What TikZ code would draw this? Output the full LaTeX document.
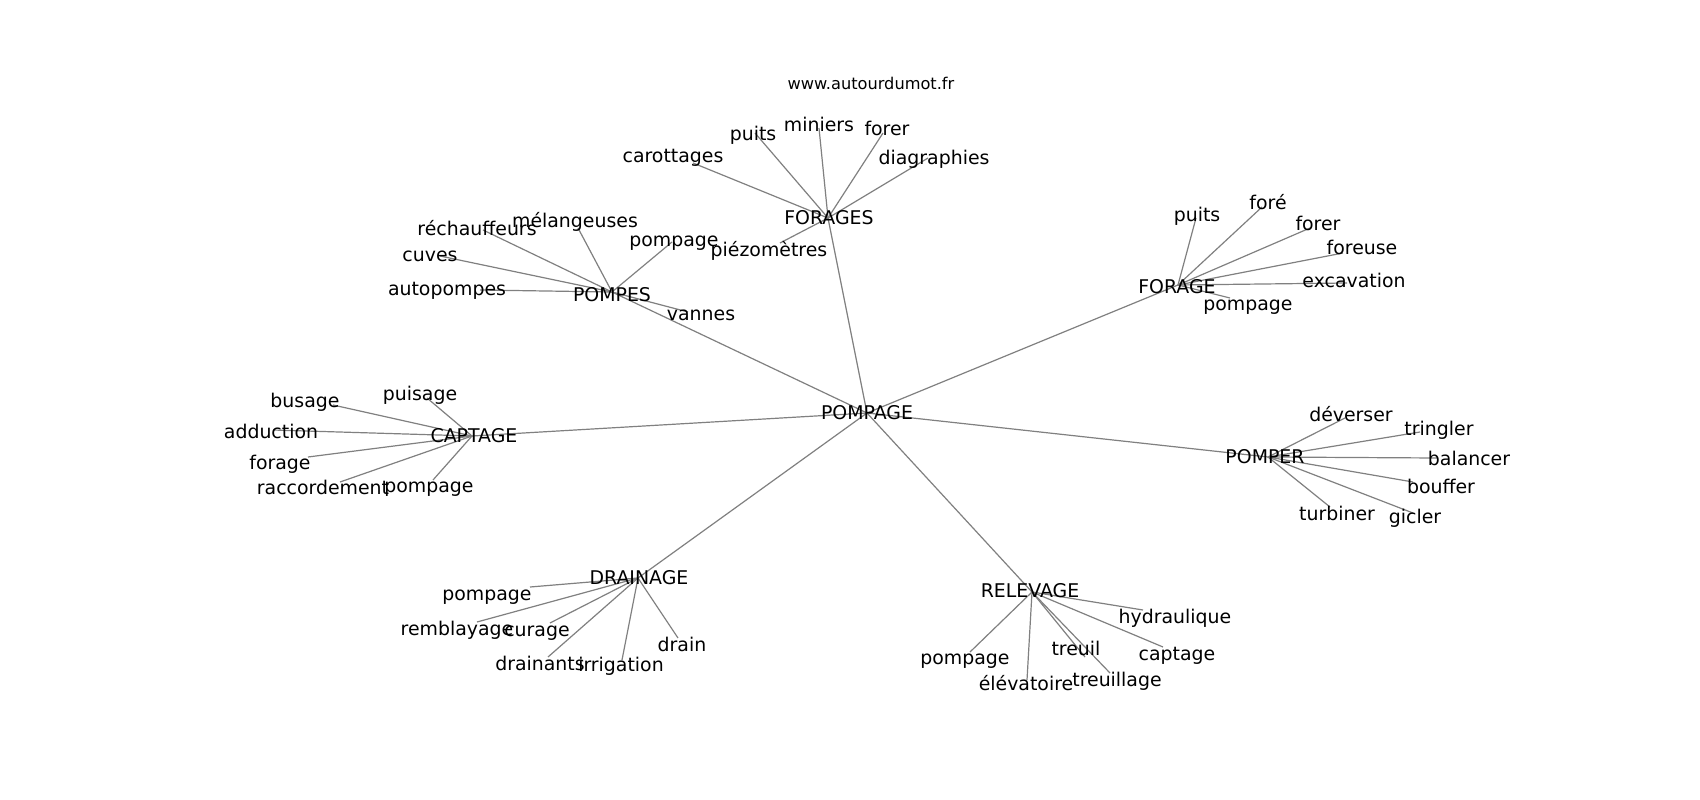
\documentclass[tikz,border=0pt]{standalone}
\usepackage{fontspec}
\setmainfont{DejaVu Sans}
\begin{document}
\begin{tikzpicture}[x=1pt,y=-1pt,
  lbl/.style={font=\fontsize{18.9}{22}\selectfont, inner sep=0pt, text height=13.8pt, text depth=0pt, anchor=center, yshift=-1.5pt},
  ttl/.style={font=\fontsize{16.2}{19}\selectfont, inner sep=0pt, text height=11.8pt, text depth=0pt, anchor=center, yshift=-1.5pt},
  edge/.style={draw=gray, line width=1.2pt}]
\useasboundingbox[fill=white] (0,0) rectangle (1700,800);
\node[ttl] (title) at (871,82) {www.autourdumot.fr};
% hub coordinates
\coordinate (cPOMPAGE) at (867,413);
\coordinate (cFORAGES) at (828,218);
\coordinate (cPOMPES) at (612,292);
\coordinate (cFORAGE) at (1178,285);
\coordinate (cCAPTAGE) at (472,436);
\coordinate (cPOMPER) at (1268,457);
\coordinate (cDRAINAGE) at (638,578);
\coordinate (cRELEVAGE) at (1032,592);
% leaf coordinates
\coordinate (c1a) at (693,163); \coordinate (c1b) at (755,133); \coordinate (c1c) at (819,128);
\coordinate (c1d) at (883,133); \coordinate (c1e) at (928,158); \coordinate (c1f) at (780,243);
\coordinate (c2a) at (483,230); \coordinate (c2b) at (578,228); \coordinate (c2c) at (672,242);
\coordinate (c2d) at (440,256); \coordinate (c2e) at (480,290); \coordinate (c2f) at (688,312);
\coordinate (c3a) at (1196,218); \coordinate (c3b) at (1262,207); \coordinate (c3c) at (1310,228);
\coordinate (c3d) at (1343,253); \coordinate (c3e) at (1347,283); \coordinate (c3f) at (1230,298);
\coordinate (c4a) at (333,405); \coordinate (c4b) at (427,398); \coordinate (c4c) at (273,430);
\coordinate (c4d) at (308,457); \coordinate (c4e) at (340,482); \coordinate (c4f) at (433,480);
\coordinate (c5a) at (1345,418); \coordinate (c5b) at (1420,432); \coordinate (c5c) at (1437,458);
\coordinate (c5d) at (1413,482); \coordinate (c5e) at (1413,513); \coordinate (c5f) at (1330,507);
\coordinate (c6a) at (530,587); \coordinate (c6b) at (477,622); \coordinate (c6c) at (550,623);
\coordinate (c6d) at (548,657); \coordinate (c6e) at (622,660); \coordinate (c6f) at (678,638);
\coordinate (c7a) at (1143,610); \coordinate (c7b) at (970,652); \coordinate (c7c) at (1027,680);
\coordinate (c7d) at (1085,657); \coordinate (c7e) at (1110,673); \coordinate (c7f) at (1163,647);
% edges
\foreach \h in {FORAGES,POMPES,FORAGE,CAPTAGE,POMPER,DRAINAGE,RELEVAGE}
  \draw[edge] (cPOMPAGE) -- (c\h);
\foreach \l in {a,b,c,d,e,f} {
  \draw[edge] (cFORAGES) -- (c1\l);
  \draw[edge] (cPOMPES) -- (c2\l);
  \draw[edge] (cFORAGE) -- (c3\l);
  \draw[edge] (cCAPTAGE) -- (c4\l);
  \draw[edge] (cPOMPER) -- (c5\l);
  \draw[edge] (cDRAINAGE) -- (c6\l);
  \draw[edge] (cRELEVAGE) -- (c7\l);
}
% hub labels
\node[lbl] (POMPAGE) at (867,411) {POMPAGE};
\node[lbl] (FORAGES) at (829,216) {FORAGES};
\node[lbl] (POMPES) at (612,293) {POMPES};
\node[lbl] (FORAGE) at (1177,285) {FORAGE};
\node[lbl] (CAPTAGE) at (474,434) {CAPTAGE};
\node[lbl] (POMPER) at (1265,455) {POMPER};
\node[lbl] (DRAINAGE) at (639,576) {DRAINAGE};
\node[lbl] (RELEVAGE) at (1030,589) {RELEVAGE};
% leaf labels
\node[lbl] (n1a) at (673,154) {carottages};
\node[lbl] (n1b) at (753,132) {puits};
\node[lbl] (n1c) at (819,123) {miniers};
\node[lbl] (n1d) at (887,127) {forer};
\node[lbl] (n1e) at (934,156) {diagraphies};
\node[lbl] (n1f) at (769,248) {piézomètres};
\node[lbl] (n2a) at (477,227) {réchauffeurs};
\node[lbl] (n2b) at (575,219) {mélangeuses};
\node[lbl] (n2c) at (674,238) {pompage};
\node[lbl] (n2d) at (430,253) {cuves};
\node[lbl] (n2e) at (447,287) {autopompes};
\node[lbl] (n2f) at (701,312) {vannes};
\node[lbl] (n3a) at (1197,213) {puits};
\node[lbl] (n3b) at (1268,201) {foré};
\node[lbl] (n3c) at (1318,222) {forer};
\node[lbl] (n3d) at (1362,246) {foreuse};
\node[lbl] (n3e) at (1354,279) {excavation};
\node[lbl] (n3f) at (1248,302) {pompage};
\node[lbl] (n4a) at (305,399) {busage};
\node[lbl] (n4b) at (420,392) {puisage};
\node[lbl] (n4c) at (271,430) {adduction};
\node[lbl] (n4d) at (280,461) {forage};
\node[lbl] (n4e) at (323,486) {raccordement};
\node[lbl] (n4f) at (429,484) {pompage};
\node[lbl] (n5a) at (1351,413) {déverser};
\node[lbl] (n5b) at (1439,427) {tringler};
\node[lbl] (n5c) at (1469,457) {balancer};
\node[lbl] (n5d) at (1441,485) {bouffer};
\node[lbl] (n5e) at (1415,515) {gicler};
\node[lbl] (n5f) at (1337,512) {turbiner};
\node[lbl] (n6a) at (487,592) {pompage};
\node[lbl] (n6b) at (457,627) {remblayage};
\node[lbl] (n6c) at (537,628) {curage};
\node[lbl] (n6d) at (540,662) {drainants};
\node[lbl] (n6e) at (621,663) {irrigation};
\node[lbl] (n6f) at (682,643) {drain};
\node[lbl] (n7a) at (1175,615) {hydraulique};
\node[lbl] (n7b) at (965,656) {pompage};
\node[lbl] (n7c) at (1026,682) {élévatoire};
\node[lbl] (n7d) at (1076,647) {treuil};
\node[lbl] (n7e) at (1117,678) {treuillage};
\node[lbl] (n7f) at (1177,652) {captage};
\end{tikzpicture}
\end{document}
